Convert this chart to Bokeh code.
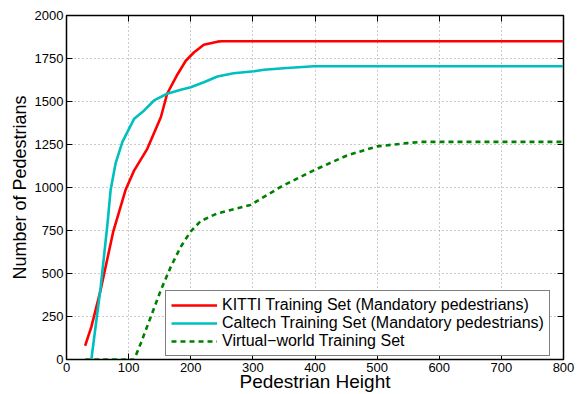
from bokeh.plotting import figure
from bokeh.models import Range1d, LinearAxis, FixedTicker, CustomJSTickFormatter
from bokeh.embed import file_html
from bokeh.resources import INLINE

# data
kitti_x = [30, 40, 55, 75, 95, 109, 130, 152, 162, 179, 192, 205, 221, 243, 250, 800]
kitti_y = [80, 190, 405, 740, 985, 1100, 1225, 1410, 1545, 1660, 1737, 1785, 1830, 1848, 1850, 1850]

caltech_x = [40, 55, 66, 71, 79, 90, 109, 125, 141, 162, 184, 200, 221, 243, 269, 302, 318, 355, 398, 800]
caltech_y = [0, 420, 790, 985, 1140, 1265, 1400, 1448, 1506, 1545, 1568, 1583, 1612, 1645, 1664, 1676, 1685, 1695, 1705, 1705]

virtual_x = [30, 109, 120, 136, 152, 168, 184, 200, 216, 243, 296, 345, 398, 452, 500, 548, 570, 800]
virtual_y = [0, 0, 98, 251, 405, 540, 656, 745, 805, 850, 898, 1004, 1100, 1187, 1239, 1258, 1265, 1265]

x_ticks = [0, 100, 200, 300, 400, 500, 600, 700, 800]
y_ticks = [0, 250, 500, 750, 1000, 1250, 1500, 1750, 2000]

labels = ["KITTI Training Set (Mandatory pedestrians)",
          "Caltech Training Set (Mandatory pedestrians)",
          "Virtual\u2212world Training Set"]

FONT = "Liberation Sans"

p = figure(width=578, height=394, output_backend="svg", toolbar_location=None,
           x_range=Range1d(0, 800), y_range=Range1d(0, 2000),
           min_border_left=66, min_border_right=15, min_border_top=15, min_border_bottom=34)

p.line(kitti_x, kitti_y, color="#ff0000", line_width=2.6, legend_label=labels[0])
p.line(caltech_x, caltech_y, color="#00bfbf", line_width=2.6, legend_label=labels[1])
p.line(virtual_x, virtual_y, color="#008000", line_width=2.6, line_dash="5 4", legend_label=labels[2])

for ax in (p.xaxis[0], p.yaxis[0]):
    ax.major_tick_in = 6
    ax.major_tick_out = 0
    ax.minor_tick_line_color = None
    ax.major_label_text_font = FONT
    ax.major_label_text_font_size = "13px"
    ax.major_label_text_color = "black"
    ax.axis_label_text_font = FONT
    ax.axis_label_text_font_size = "18px"
    ax.axis_label_text_font_style = "normal"
    ax.axis_label_text_color = "black"
    ax.axis_line_color = "black"
    ax.major_tick_line_color = "black"
    ax.major_label_standoff = 3

p.xaxis[0].ticker = FixedTicker(ticks=x_ticks)
p.yaxis[0].ticker = FixedTicker(ticks=y_ticks)
p.xaxis[0].axis_label = "Pedestrian Height"
p.yaxis[0].axis_label = "Number of Pedestrians"
p.xaxis[0].axis_label_text_font_size = "19px"
p.xaxis[0].axis_label_standoff = -4
p.yaxis[0].axis_label_standoff = 2

empty = CustomJSTickFormatter(code="return ''")
top = LinearAxis(ticker=FixedTicker(ticks=x_ticks), formatter=empty,
                 major_tick_in=6, major_tick_out=0, minor_tick_line_color=None,
                 major_label_standoff=0, axis_line_color="black")
right = LinearAxis(ticker=FixedTicker(ticks=y_ticks), formatter=empty,
                   major_tick_in=6, major_tick_out=0, minor_tick_line_color=None,
                   major_label_standoff=0, axis_line_color="black")
p.add_layout(top, "above")
p.add_layout(right, "right")

p.xgrid.ticker = FixedTicker(ticks=x_ticks)
p.ygrid.ticker = FixedTicker(ticks=y_ticks)
for g in (p.xgrid[0], p.ygrid[0]):
    g.grid_line_color = "#999999"
    g.grid_line_dash = "1 3"
    g.grid_line_width = 1

p.outline_line_color = "black"
p.outline_line_width = 1.5
p.background_fill_color = "white"
p.border_fill_color = "white"

lg = p.legend[0]
lg.location = (99, 3)
lg.margin = 0
lg.padding = 5
lg.spacing = 0
lg.label_height = 18
lg.glyph_height = 18
lg.glyph_width = 46
lg.label_standoff = 5
lg.label_text_font = FONT
lg.label_text_font_size = "16px"
lg.label_text_color = "black"
lg.border_line_color = "black"
lg.border_line_width = 1
lg.background_fill_alpha = 1

open("out.html", "w").write(file_html(p, INLINE))
